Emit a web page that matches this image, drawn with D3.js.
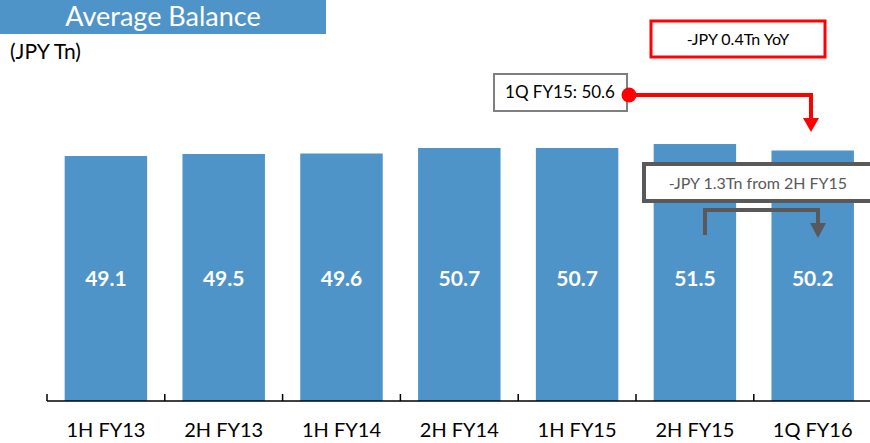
<!DOCTYPE html>
<html>
<head>
<meta charset="utf-8">
<script src="https://cdn.jsdelivr.net/npm/d3@7"></script>
<style>
  body { margin: 0; background: #fff; }
  svg { display: block; font-family: Lato, "Open Sans", sans-serif; }
</style>
</head>
<body>
<div id="chart"></div>
<script>
// Average balance per period, JPY Tn
const periods = ["1H FY13", "2H FY13", "1H FY14", "2H FY14", "1H FY15", "2H FY15", "1Q FY16"]
const balance = [49.1, 49.5, 49.6, 50.7, 50.7, 51.5, 50.2]

const width = 870
const height = 443
const barColor = "#4f94c9"

const svg = d3.select("#chart")
  .append("svg")
  .attr("width", width)
  .attr("height", height)

const x = d3.scaleBand()
  .domain(periods)
  .range([47, 871.6])
  .paddingInner(0.3)
  .paddingOuter(0.15)

const y = d3.scaleLinear()
  .domain([0, 60])
  .range([401, 101.6])

// title band
svg.append("rect")
  .attr("x", 0).attr("y", 0)
  .attr("width", 326).attr("height", 34)
  .attr("fill", barColor)

svg.append("text")
  .attr("x", 163).attr("y", 26)
  .attr("text-anchor", "middle")
  .attr("fill", "#fff")
  .attr("font-size", 27)
  .text("Average Balance")

svg.append("text")
  .attr("x", 10).attr("y", 59)
  .attr("font-size", 21)
  .attr("fill", "#000")
  .text("(JPY Tn)")

// bars
const bars = svg.append("g")
  .selectAll("g")
  .data(periods.map((p, i) => ({ p, v: balance[i] })))
  .join("g")

bars.append("rect")
  .attr("x", d => x(d.p))
  .attr("y", d => y(d.v))
  .attr("width", x.bandwidth())
  .attr("height", d => y(0) - y(d.v))
  .attr("fill", barColor)

bars.append("text")
  .attr("x", d => x(d.p) + x.bandwidth() / 2)
  .attr("y", 286)
  .attr("text-anchor", "middle")
  .attr("fill", "#fff")
  .attr("font-size", 21)
  .attr("font-weight", "bold")
  .text(d => d.v.toFixed(1))

// x axis: baseline with ticks at band edges
const axis = svg.append("g")
axis.append("line")
  .attr("x1", 47).attr("x2", width + 2)
  .attr("y1", 401).attr("y2", 401)
  .attr("stroke", "#000").attr("stroke-width", 1.5)

axis.selectAll(".tk")
  .data(periods)
  .join("line")
  .attr("class", "tk")
  .attr("x1", d => x(d) - x.step() * 0.15)
  .attr("x2", d => x(d) - x.step() * 0.15)
  .attr("y1", 394).attr("y2", 401)
  .attr("stroke", "#000").attr("stroke-width", 1.5)

axis.selectAll(".lbl")
  .data(periods)
  .join("text")
  .attr("class", "lbl")
  .attr("x", d => x(d) + x.bandwidth() / 2)
  .attr("y", 437)
  .attr("text-anchor", "middle")
  .attr("font-size", 20)
  .attr("fill", "#000")
  .text(d => d)

// annotations
const ann = svg.append("g")

// YoY box (red)
ann.append("rect")
  .attr("x", 651).attr("y", 21)
  .attr("width", 174).attr("height", 36)
  .attr("fill", "#fff")
  .attr("stroke", "#ff0000").attr("stroke-width", 3)
ann.append("text")
  .attr("x", 738).attr("y", 45)
  .attr("text-anchor", "middle")
  .attr("font-size", 16)
  .attr("fill", "#000")
  .text("-JPY 0.4Tn YoY")

// 1Q FY15 reference box
ann.append("rect")
  .attr("x", 494).attr("y", 74)
  .attr("width", 133).attr("height", 37)
  .attr("fill", "#fff")
  .attr("stroke", "#7f7f7f").attr("stroke-width", 2)
ann.append("text")
  .attr("x", 560).attr("y", 98)
  .attr("text-anchor", "middle")
  .attr("font-size", 17)
  .attr("fill", "#000")
  .text("1Q FY15: 50.6")

// red connector with arrow
ann.append("path")
  .attr("d", "M629,95 H811 V120")
  .attr("fill", "none")
  .attr("stroke", "#ff0000").attr("stroke-width", 4)
ann.append("path")
  .attr("d", "M803,118 L819,118 L811,132 Z")
  .attr("fill", "#ff0000")
ann.append("circle")
  .attr("cx", 629).attr("cy", 95).attr("r", 7.5)
  .attr("fill", "#ff0000")

// 2H FY15 comparison box (dark gray)
ann.append("rect")
  .attr("x", 644).attr("y", 164)
  .attr("width", 240).attr("height", 37)
  .attr("fill", "#fff")
  .attr("stroke", "#595959").attr("stroke-width", 4)
ann.append("text")
  .attr("x", 758).attr("y", 189)
  .attr("text-anchor", "middle")
  .attr("font-size", 16)
  .attr("fill", "#595959")
  .text("-JPY 1.3Tn from 2H FY15")

ann.append("path")
  .attr("d", "M705,235 V210 H818 V225")
  .attr("fill", "none")
  .attr("stroke", "#595959").attr("stroke-width", 4)
ann.append("path")
  .attr("d", "M810,223 L826,223 L818,238 Z")
  .attr("fill", "#595959")
</script>
</body>
</html>
